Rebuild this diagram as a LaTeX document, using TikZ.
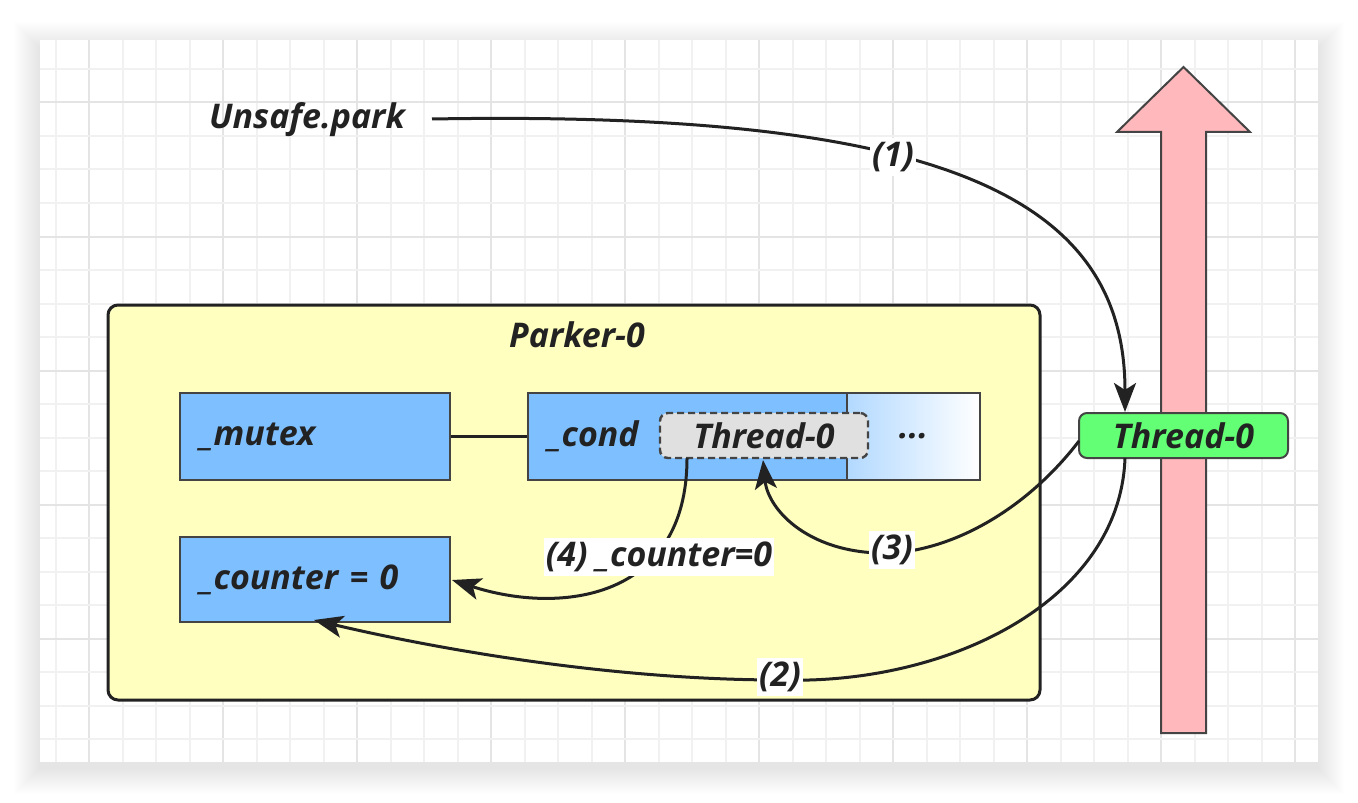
\documentclass[tikz,border=0pt]{standalone}
\usepackage{fontspec}
\setmainfont{Open Sans}
\usetikzlibrary{arrows.meta}
\definecolor{gridminor}{HTML}{F1F1F1}
\definecolor{gridmajor}{HTML}{E4E4E4}
\definecolor{ink}{HTML}{222222}
\definecolor{edge}{HTML}{444444}
\definecolor{parkerfill}{HTML}{FFFFBF}
\definecolor{bluefill}{HTML}{7EBFFF}
\definecolor{bluelight}{HTML}{B2D9FF}
\definecolor{greenfill}{HTML}{63FF75}
\definecolor{pinkfill}{HTML}{FFB8BC}
\definecolor{grayfill}{HTML}{E0E0E0}
\tikzset{
  txt/.style={text=ink, inner sep=2pt},
  parkerbox/.style={draw=ink, line width=1.5pt, fill=parkerfill, rounded corners=5pt,
    minimum width=466pt, minimum height=197.5pt, inner sep=0pt},
  bluebox/.style={draw=edge, line width=1pt, fill=bluefill, text=ink, align=left,
    inner xsep=10pt, inner ysep=0pt, minimum height=43.5pt},
  shadebox/.style={draw=edge, line width=1pt, left color=bluelight, right color=white,
    text=ink, inner sep=0pt, minimum height=43.5pt},
  dashbox/.style={draw=edge, line width=1.2pt, dash pattern=on 3.5pt off 2pt, fill=grayfill,
    rounded corners=4pt, text=ink, minimum width=104pt, minimum height=22.5pt, inner sep=0pt},
  greenbox/.style={draw=edge, line width=1pt, fill=greenfill, rounded corners=4pt, text=ink,
    minimum width=104.5pt, minimum height=22.5pt, inner sep=0pt},
  pinkshape/.style={draw=edge, line width=1pt, fill=pinkfill, line join=miter},
  conn/.style={draw=ink, line width=1.5pt, -{Stealth[length=14.5pt,width=11pt,inset=3.5pt]}},
  plainline/.style={draw=ink, line width=1.5pt},
  lbl/.style={fill=white, text=ink, inner xsep=1pt, inner ysep=2pt}
}
\begin{document}
\begin{tikzpicture}[x=0.5pt,y=-0.5pt, font=\fontsize{17}{20}\selectfont\bfseries\itshape]
\useasboundingbox (0,0) rectangle (1358,802);
\fill[white] (0,0) rectangle (1358,802);
% soft shadow
\foreach \k in {1,...,26} {
  \fill[black,opacity=0.0055] (40-\k,40-\k+8) rectangle (1318+\k,762+\k+6);
}
\fill[white] (40,40) rectangle (1318,762);
% grid
\foreach \i in {0,...,37} {
  \pgfmathsetmacro\xx{55.8+33.5*\i}
  \pgfmathtruncatemacro\mm{mod(\i+3,4)}
  \ifnum\mm=0 \draw[gridmajor,line width=1pt] (\xx,40) -- (\xx,762);
  \else \draw[gridminor,line width=1pt] (\xx,40) -- (\xx,762); \fi
}
\foreach \j in {0,...,20} {
  \pgfmathsetmacro\yy{69+33.5*\j}
  \pgfmathtruncatemacro\mm{mod(\j+3,4)}
  \ifnum\mm=0 \draw[gridmajor,line width=1pt] (40,\yy) -- (1318,\yy);
  \else \draw[gridminor,line width=1pt] (40,\yy) -- (1318,\yy); \fi
}
% Parker box
\node[parkerbox] (parker) at (574,502.5) {};
\node[txt] (parkertitle) at (577,335) {Parker-0};
% pink up arrow
\draw[pinkshape] (1161,733) -- (1161,132) -- (1117,132) -- (1183.5,67) -- (1250,132) -- (1206,132) -- (1206,733) -- cycle;
% inner boxes
\node[bluebox, text width=115pt] (mutex) at (315,436.5) {\_mutex};
\node[bluebox, text width=139.5pt] (condL) at (687.5,436.5) {\_cond};
\node[shadebox, minimum width=66.5pt] (condR) at (913.5,436.5) {...};
\node[bluebox, text width=115pt, minimum height=42.5pt] (counter) at (315,579.5) {\_counter = 0};
\draw[plainline] (mutex.east) -- (condL.west);
\node[dashbox] (waiter) at (764,435.5) {Thread-0};
% thread node
\node[greenbox] (t0) at (1183.5,435.5) {Thread-0};
\node[txt] (unsafe) at (307,120) {Unsafe.park};
% connector end points
\coordinate (a1s) at (432,119);
\coordinate (a1e) at (1125,412);
\coordinate (a2s) at (1125,458);
\coordinate (a2m) at (781,680);
\coordinate (a2e) at (314,620);
\coordinate (a3s) at (1079,441);
\coordinate (a3m) at (893,553);
\coordinate (a3e) at (763,460);
\coordinate (a4s) at (687,458);
\coordinate (a4e) at (452,580);
% connectors
\draw[conn] (a1s) .. controls (950,110) and (1125,200) .. (a1e);
\draw[conn] (a2s) .. controls (1120,600) and (950,685) .. (a2m) .. controls (600,680) and (420,645) .. (a2e);
\draw[conn] (a3s) .. controls (1030,505) and (960,548) .. (a3m) .. controls (810,556) and (768,510) .. (a3e);
\draw[conn] (a4s) .. controls (687,600) and (560,615) .. (a4e);
% labels
\node[lbl] (l1) at (893,157) {(1)};
\node[lbl] (l2) at (780,677) {(2)};
\node[lbl] (l3) at (892,550) {(3)};
\node[lbl] (l4) at (659,557) {(4) \_counter=0};
\end{tikzpicture}
\end{document}
